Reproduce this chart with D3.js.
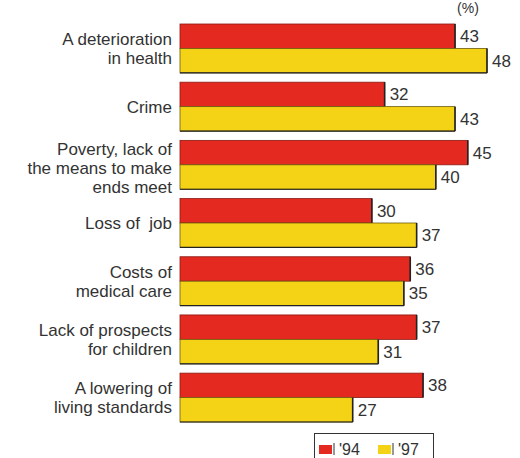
<!DOCTYPE html>
<html>
<head>
<meta charset="utf-8">
<script src="https://cdn.jsdelivr.net/npm/d3@7"></script>
<style>
  body { margin: 0; background: #fff; }
  text { font-family: "Liberation Sans", Arial, sans-serif; fill: #333; white-space: pre; }
</style>
</head>
<body>
<div id="chart"></div>
<script>
// chart values
const categories = [
    ["A deterioration", "in health"],
    ["Crime"],
    ["Poverty, lack of", "the means to make", "ends meet"],
    ["Loss of  job"],
    ["Costs of", "medical care"],
    ["Lack of prospects", "for children"],
    ["A lowering of", "living standards"]
];
const series = ["'94", "'97"];
const values94 = [43, 32, 45, 30, 36, 37, 38];
const values97 = [48, 43, 40, 37, 35, 31, 27];
const colors = {"'94": "#e42a20", "'97": "#f4d215"};

const width = 520, height = 458;

const svg = d3.select("#chart")
    .append("svg")
    .attr("width", width)
    .attr("height", height);

const xScale = d3.scaleLinear().domain([0, 48]).range([180, 487]);
const yScale = d3.scaleBand().domain(d3.range(categories.length)).range([24, 422]).paddingInner(0.16);
const inner = d3.scaleBand().domain(series).range([0, yScale.bandwidth()]);

const data = categories.map((c, i) => ({label: c, "'94": values94[i], "'97": values97[i]}));

data.forEach((d, i) => {
    const g = svg.append("g").attr("transform", `translate(0, ${yScale(i)})`);

    series.forEach(s => {
        const y = inner(s);
        const h = inner.bandwidth();
        g.append("rect")
            .attr("x", xScale(0))
            .attr("y", y)
            .attr("width", xScale(d[s]) - xScale(0))
            .attr("height", h)
            .attr("fill", colors[s])
            .attr("stroke", s === "'94" ? "#8a1a12" : "#6b5a10")
            .attr("stroke-width", 0.8);
        // dark end line
        g.append("line")
            .attr("x1", xScale(d[s])).attr("x2", xScale(d[s]))
            .attr("y1", y).attr("y2", y + h)
            .attr("stroke", "#222").attr("stroke-width", 1.6);
        g.append("text")
            .attr("x", xScale(d[s]) + 5)
            .attr("y", y + h / 2)
            .attr("dy", "0.35em")
            .attr("font-size", 17)
            .text(d[s]);
    });
    // bottom edge of yellow bar
    g.append("line")
        .attr("x1", xScale(0)).attr("x2", xScale(d["'97"]))
        .attr("y1", yScale.bandwidth()).attr("y2", yScale.bandwidth())
        .attr("stroke", "#222").attr("stroke-width", 1.2);

    const n = d.label.length;
    const lh = 19;
    const cy = yScale.bandwidth() / 2 + (n > 2 ? 3 : 0);
    d.label.forEach((line, k) => {
        g.append("text")
            .attr("x", 172)
            .attr("y", cy + (k - (n - 1) / 2) * lh)
            .attr("dy", "0.35em")
            .attr("text-anchor", "end")
            .attr("font-size", 17)
            .text(line);
    });
});

svg.append("text")
    .attr("x", 468).attr("y", 8)
    .attr("dy", "0.35em")
    .attr("text-anchor", "middle")
    .attr("font-size", 14)
    .text("(%)");

// legend
const legend = svg.append("g");
legend.append("rect")
    .attr("x", 314.5).attr("y", 433.5)
    .attr("width", 119).attr("height", 26)
    .attr("fill", "none").attr("stroke", "#333").attr("stroke-width", 1);
let pos = 319;
series.forEach(s => {
    legend.append("rect")
        .attr("x", pos).attr("y", 445)
        .attr("width", 13).attr("height", 9)
        .attr("fill", colors[s]);
    legend.append("line")
        .attr("x1", pos + 15).attr("x2", pos + 15)
        .attr("y1", 443).attr("y2", 455)
        .attr("stroke", "#333").attr("stroke-width", 1);
    legend.append("text")
        .attr("x", pos + 20).attr("y", 449)
        .attr("dy", "0.35em")
        .attr("font-size", 16)
        .text(s);
    pos += 59;
});
</script>
</body>
</html>
